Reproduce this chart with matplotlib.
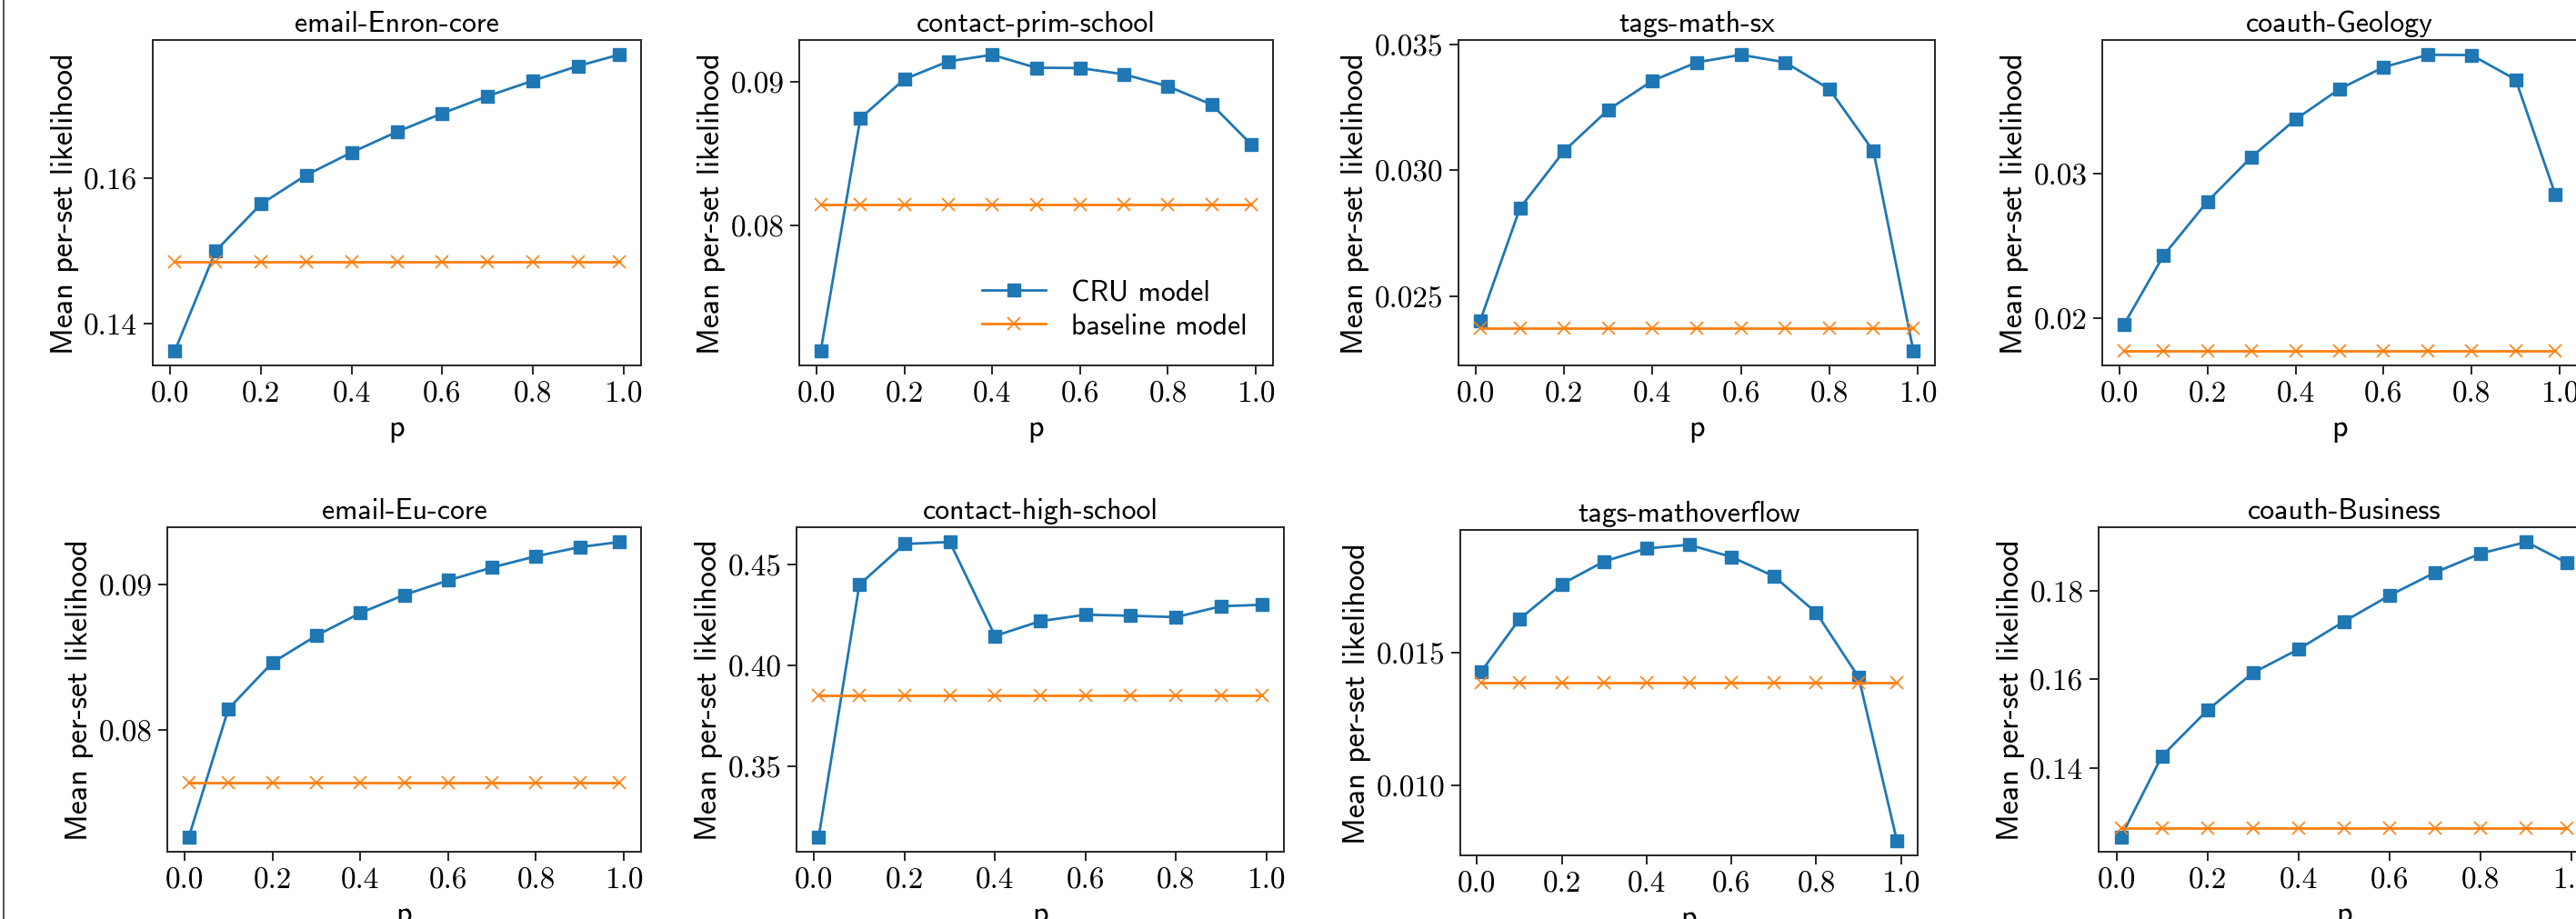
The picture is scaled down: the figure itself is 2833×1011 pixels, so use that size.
import matplotlib
matplotlib.use("Agg")
import matplotlib.pyplot as plt
from matplotlib.lines import Line2D
from matplotlib.font_manager import FontProperties

# ---------------- data ----------------
p_values = [0.01, 0.1, 0.2, 0.3, 0.4, 0.5, 0.6, 0.7, 0.8, 0.9, 0.99]

titles = ["email-Enron-core", "contact-prim-school", "tags-math-sx", "coauth-Geology",
          "email-Eu-core", "contact-high-school", "tags-mathoverflow", "coauth-Business"]

cru_enron = [0.13625, 0.1500, 0.15646, 0.16046, 0.16358, 0.16641, 0.16896, 0.17134, 0.17346, 0.1755, 0.17704]
base_enron = [0.14854] * 11

cru_prim = [0.07132, 0.08747, 0.09019, 0.09143, 0.09189, 0.09099, 0.09097, 0.09053, 0.0897, 0.08842, 0.08564]
base_prim = [0.08149] * 11

cru_mathsx = [0.02401, 0.02849, 0.03076, 0.0324, 0.03355, 0.03428, 0.03458, 0.03428, 0.03322, 0.03075, 0.02283]
base_mathsx = [0.02374] * 11

cru_geology = [0.01954, 0.02434, 0.0281, 0.03118, 0.03379, 0.0359, 0.03741, 0.03827, 0.03825, 0.03655, 0.02857]
base_geology = [0.01775] * 11

cru_eu = [0.07266, 0.08146, 0.08464, 0.08649, 0.08805, 0.08929, 0.09029, 0.09118, 0.09195, 0.09258, 0.09293]
base_eu = [0.07638] * 11

cru_high = [0.3152, 0.4401, 0.4602, 0.4612, 0.4147, 0.4220, 0.4252, 0.4247, 0.4240, 0.4294, 0.4301]
base_high = [0.3855] * 11

cru_mo = [0.01428, 0.01626, 0.01759, 0.01845, 0.01894, 0.01908, 0.01862, 0.01789, 0.01651, 0.01407, 0.0079]
base_mo = [0.01386] * 11

cru_business = [0.12452, 0.14272, 0.15307, 0.16149, 0.16679, 0.17304, 0.17891, 0.18407, 0.18835, 0.19093, 0.18618]
base_business = [0.12662] * 11

cru_series = [cru_enron, cru_prim, cru_mathsx, cru_geology, cru_eu, cru_high, cru_mo, cru_business]
base_series = [base_enron, base_prim, base_mathsx, base_geology, base_eu, base_high, base_mo, base_business]

x_ticks = [0.0, 0.2, 0.4, 0.6, 0.8, 1.0]
x_tick_labels = ["0.0", "0.2", "0.4", "0.6", "0.8", "1.0"]

y_ticks = [[0.14, 0.16], [0.08, 0.09], [0.025, 0.030, 0.035], [0.02, 0.03],
           [0.08, 0.09], [0.35, 0.40, 0.45], [0.010, 0.015], [0.14, 0.16, 0.18]]
y_tick_labels = [["0.14", "0.16"], ["0.08", "0.09"], ["0.025", "0.030", "0.035"], ["0.02", "0.03"],
                 ["0.08", "0.09"], ["0.35", "0.40", "0.45"], ["0.010", "0.015"], ["0.14", "0.16", "0.18"]]

series_names = ["CRU model", "baseline model"]
xlabel_text = "p"
ylabel_text = "Mean per-set likelihood"

# ---------------- layout ----------------
W, H, DPI = 2833, 1012, 100
fig = plt.figure(figsize=(W / DPI, H / DPI), dpi=DPI)
fig.patch.set_facecolor("white")

# pixel boxes (left, top, right, bottom)
boxes = [(168, 45, 705, 403), (879, 45, 1400, 403), (1604, 45, 2128, 403), (2312, 45, 2834, 403),
         (184, 581, 705, 938), (876, 581, 1412, 938), (1606, 584, 2109, 942), (2308, 581, 2848, 938)]

title_font = FontProperties(family="cmss10", size=23)
label_font = FontProperties(family="cmss10", size=24.5)
legend_font = FontProperties(family="cmss10", size=23)
tick_font = FontProperties(family="cmr10", size=24)
spine_col = "0.15"

for i, (l, t, r, b) in enumerate(boxes):
    ax = fig.add_axes([l / W, 1 - b / H, (r - l) / W, (b - t) / H])
    ax.plot(p_values, cru_series[i], color="#1f77b4", marker="s", markersize=10,
            linewidth=2, label=series_names[0])
    ax.plot(p_values, base_series[i], color="#ff7f0e", marker="x", markersize=10,
            markeredgewidth=1.2, linewidth=2, label=series_names[1])
    ax.set_xticks(x_ticks)
    ax.set_xticklabels(x_tick_labels, fontproperties=tick_font)
    ax.set_yticks(y_ticks[i])
    ax.set_yticklabels(y_tick_labels[i], fontproperties=tick_font)
    ax.set_title(titles[i], fontproperties=title_font, pad=7)
    ax.set_xlabel(xlabel_text, fontproperties=label_font, labelpad=5)
    ax.set_ylabel(ylabel_text, fontproperties=label_font, labelpad=4)
    for s in ax.spines.values():
        s.set_color(spine_col)
        s.set_linewidth(1.4)
    ax.tick_params(direction="out", length=7, width=1.4, color=spine_col, pad=5,
                   top=False, right=False, labelcolor="black")
    if i == 1:
        ax.legend(loc="lower right", frameon=False, prop=legend_font, handlelength=2.2,
                  handletextpad=0.85, labelspacing=0.25, borderaxespad=0.5)

# thin border line at the left edge of the picture
fig.add_artist(Line2D([3.5 / W, 3.5 / W], [0, 1], transform=fig.transFigure,
                      color="0.35", linewidth=1.5))

fig.savefig("out.png", dpi=DPI)
